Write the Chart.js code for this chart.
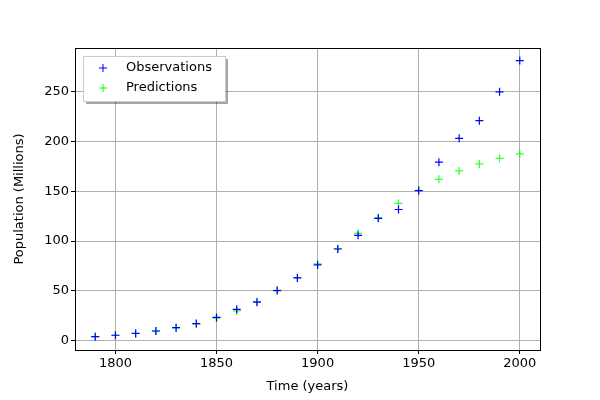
<!DOCTYPE html>
<html>
<head>
<script src="https://cdn.jsdelivr.net/npm/chart.js@4"></script>
<style>body{margin:0;background:#fff}#wrap{width:600px;height:400px}</style>
</head>
<body>
<div id="wrap"><canvas id="c" width="600" height="400"></canvas></div>
<script>
var years = [1790,1800,1810,1820,1830,1840,1850,1860,1870,1880,1890,1900,1910,1920,1930,1940,1950,1960,1970,1980,1990,2000];
var observations = [3.9,5.3,7.2,9.6,12.9,17.1,23.2,31.4,38.6,50.2,62.9,76.0,92.0,105.7,122.8,131.7,150.7,179.3,203.2,221.0,250.0,281.4];
var predictions = [4.0,5.3,7.1,9.5,12.6,16.8,22.4,29.8,39.2,50.4,63.3,77.2,92.3,107.8,123.3,137.9,151.0,162.0,170.5,177.5,183.0,187.5];
var xTicks = [1800,1850,1900,1950,2000];
var yTicks = [0,50,100,150,200,250];

var font = {family: "DejaVu Sans", size: 13};

var legendBox = {
    id: "legendBox",
    afterDraw: function(chart) {
        var ctx = chart.ctx, a = chart.chartArea;
        ctx.save();
        // frame
        ctx.strokeStyle = "#000";
        ctx.lineWidth = 1;
        ctx.strokeRect(Math.round(a.left) + 0.5, Math.round(a.top) + 0.5, Math.round(a.right - a.left), Math.round(a.bottom - a.top));
        var x = 83, y = 56, w = 142, h = 45;
        ctx.fillStyle = "rgba(0,0,0,0.35)";
        ctx.fillRect(x + 3, y + 3, w, h);
        ctx.fillStyle = "#fff";
        ctx.strokeStyle = "#ccc";
        ctx.fillRect(x, y, w, h);
        ctx.strokeRect(x + 0.5, y + 0.5, w, h);
        var items = [["Observations", "#0000ff"], ["Predictions", "#00ff00"]];
        ctx.font = "13px DejaVu Sans";
        ctx.textBaseline = "middle";
        items.forEach(function(it, i) {
            var cy = y + 12 + i * 20, cx = x + 20;
            ctx.strokeStyle = it[1];
            ctx.beginPath();
            ctx.moveTo(cx - 4, cy); ctx.lineTo(cx + 4, cy);
            ctx.moveTo(cx, cy - 4); ctx.lineTo(cx, cy + 4);
            ctx.stroke();
            ctx.fillStyle = "#000";
            ctx.fillText(it[0], x + 43, cy);
        });
        ctx.restore();
    }
};

new Chart(document.getElementById("c"), {
    type: "scatter",
    data: {
        datasets: [{
            label: "Observations",
            data: years.map((y, i) => ({x: y, y: observations[i]})),
            pointStyle: "cross",
            radius: 4,
            borderWidth: 1.2,
            borderColor: "#0000ff",
            backgroundColor: "#0000ff"
        }, {
            label: "Predictions",
            data: years.map((y, i) => ({x: y, y: predictions[i]})),
            pointStyle: "cross",
            radius: 4,
            borderWidth: 1.2,
            borderColor: "rgba(0,255,0,0.8)",
            backgroundColor: "#00ff00"
        }]
    },
    options: {
        responsive: false,
        animation: false,
        layout: {padding: {top: 48, right: 60, left: 10, bottom: 6}},
        plugins: {legend: {display: false}, tooltip: {enabled: false}},
        scales: {
            x: {
                min: 1780, max: 2010,
                afterBuildTicks: a => { a.ticks = xTicks.map(v => ({value: v})); },
                afterFit: s => { s.height = 44; },
                grid: {color: "#b0b0b0", tickColor: "#000", tickLength: 4},
                border: {color: "#000"},
                ticks: {color: "#000", font: font, padding: 2, callback: v => String(v)},
                title: {display: true, text: "Time (years)", color: "#000", font: font, padding: 0}
            },
            y: {
                min: -9.5, max: 294,
                afterBuildTicks: a => { a.ticks = yTicks.map(v => ({value: v})); },
                afterFit: s => { s.width = 65; },
                grid: {color: "#b0b0b0", tickColor: "#000", tickLength: 4},
                border: {color: "#000"},
                ticks: {color: "#000", font: font, padding: 2, callback: v => String(v)},
                title: {display: true, text: "Population (Millions)", color: "#000", font: font, padding: 2}
            }
        }
    },
    plugins: [legendBox]
});
</script>
</body>
</html>
